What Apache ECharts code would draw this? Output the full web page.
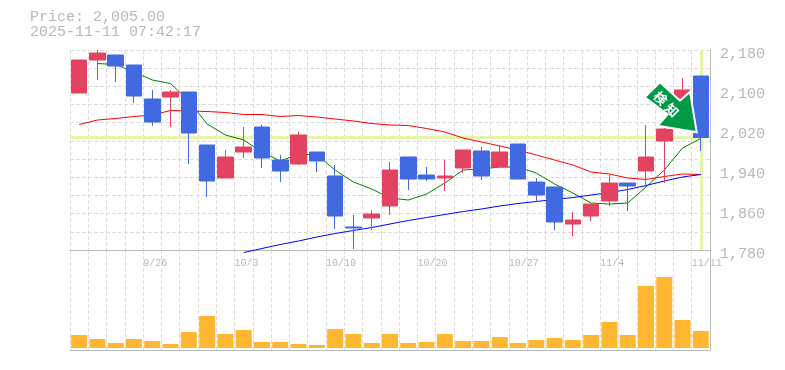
<!DOCTYPE html>
<html><head><meta charset="utf-8">
<style>html,body{margin:0;padding:0;background:#fff}#c{width:785px;height:370px}</style>
<script src="https://cdn.jsdelivr.net/npm/echarts@6/dist/echarts.min.js"></script>
</head><body><div id="c"></div>
<script>
const titleLines = ['Price: 2,005.00', '2025-11-11 07:42:17'];
const lastPrice = 2005;
const dates = ['9/19','9/22','9/24','9/25','9/26','9/29','9/30','10/1','10/2','10/3','10/6','10/7','10/8','10/9','10/10','10/14','10/15','10/16','10/17','10/20','10/21','10/22','10/23','10/24','10/27','10/28','10/29','10/30','10/31','11/4','11/5','11/6','11/7','11/10','11/11'];
const tickLabels = {4:'9/26',9:'10/3',14:'10/10',19:'10/20',24:'10/27',29:'11/4',34:'11/11'};
const opens  = [2094,2160,2170,2150,2082,2086,2096,1990,1924,1976,2026,1960,1952,1976,1928,1826,1844,1868,1966,1930,1924,1944,1978,1946,1992,1916,1906,1832,1848,1878,1914,1938,1998,2082,2128];
const closes = [2160,2174,2148,2088,2036,2096,2014,1918,1966,1986,1964,1938,2010,1958,1848,1824,1852,1940,1922,1922,1928,1980,1928,1976,1922,1890,1836,1840,1872,1914,1908,1966,2022,2100,2005];
const lows   = [2094,2120,2116,2074,2028,2026,1952,1886,1924,1964,1944,1916,1950,1936,1822,1782,1820,1850,1900,1918,1898,1934,1920,1946,1922,1876,1820,1808,1838,1868,1858,1904,1914,2082,1978];
const highs  = [2160,2180,2170,2150,2100,2100,2096,1990,1980,2026,2030,1970,2016,1976,1950,1850,1860,1956,1966,1946,1960,1980,1986,1988,1992,1924,1906,1856,1872,1930,1914,2030,2030,2124,2128];
const maShort = [null,2153,2151,2136,2120,2113,2078,2032,2010,2000,1976,1958,1972,1970,1940,1916,1902,1884,1880,1892,1914,1940,1942,1946,1946,1934,1912,1894,1874,1872,1874,1906,1940,1984,2003];
const maMid = [2031,2040,2043,2047,2050,2059,2058,2057,2055,2051,2051,2047,2049,2046,2042,2038,2033,2030,2029,2023,2016,2004,1996,1988,1980,1970,1960,1950,1936,1932,1924,1921,1927,1932,1931];
const maLong = [null,null,null,null,null,null,null,null,null,1775,1783,1791,1798,1806,1813,1819,1825,1832,1839,1845,1851,1857,1862,1868,1873,1877,1881,1885,1890,1895,1901,1909,1918,1926,1931];
const volumes = [13,9,5,9,7,4,16,32,14,18,6,6,4,3,19,14,5,14,5,6,14,7,7,11,5,8,10,8,13,26,13,62,71,28,17];
const priceTicks = {min:1780,max:2180,step:80};
const arrowGlyphs = ['検','知'];

const chart = echarts.init(document.getElementById('c'), null, {renderer:'canvas'});
const FONT = '"Liberation Mono", monospace';
const GRID = '#dddddd', AXIS = '#bbbbbb', TXT = '#b8b8b8';
const dash = {color:GRID, type:[4,2], width:1};
const N = dates.length;
const line = (data,color)=>({type:'line',data,xAxisIndex:0,yAxisIndex:0,symbol:'none',z:1,clip:false,
  connectNulls:false,animation:false,lineStyle:{color,width:1},silent:true});

chart.setOption({
  animation:false,
  backgroundColor:'#fff',
  title:{left:30,top:10,padding:0,text:titleLines.join('\n'),textStyle:{fontFamily:FONT,fontSize:15,fontWeight:'normal',color:TXT,lineHeight:15}},
  grid:[{left:70,top:50,width:640,height:200},{left:70,top:250,width:640,height:100}],
  xAxis:[
    {type:'category',gridIndex:0,data:dates,boundaryGap:true,axisLine:{show:false},axisTick:{show:false},axisLabel:{show:false},
      splitLine:{show:true,interval:0,lineStyle:dash}},
    {type:'value',gridIndex:0,min:0,max:N,interval:1,position:'bottom',axisLine:{show:true,onZero:false,lineStyle:{color:AXIS,width:1}},axisTick:{show:false},splitLine:{show:false},
      axisLabel:{show:true,margin:8,align:'left',fontFamily:FONT,fontSize:10,color:TXT,formatter:v=>tickLabels[v]||'',hideOverlap:false,showMaxLabel:true,showMinLabel:true}},
    {type:'category',gridIndex:1,data:dates,boundaryGap:true,axisLine:{show:true,onZero:false,lineStyle:{color:AXIS,width:1}},axisTick:{show:false},axisLabel:{show:false},
      splitLine:{show:true,interval:0,lineStyle:dash}}
  ],
  yAxis:[
    {type:'value',gridIndex:0,min:priceTicks.min,max:priceTicks.max,interval:priceTicks.step,position:'right',scale:true,
      axisLine:{show:true,onZero:false,lineStyle:{color:AXIS,width:1}},axisTick:{show:false},splitLine:{show:false},
      axisLabel:{show:true,margin:10,fontFamily:FONT,fontSize:15,color:TXT,verticalAlign:'top',lineHeight:12,padding:[-2,0,0,0],
        formatter:v=>v.toLocaleString('en-US')}},
    {type:'value',gridIndex:0,min:0,max:11,interval:1,position:'left',axisLine:{show:false},axisTick:{show:false},axisLabel:{show:false},
      splitLine:{show:true,lineStyle:dash}},
    {type:'value',gridIndex:1,min:-2,max:98,position:'right',axisLine:{show:true,onZero:false,lineStyle:{color:AXIS,width:1}},axisTick:{show:false},axisLabel:{show:false},splitLine:{show:false}}
  ],
  series:[
    line(maShort,'#008000'), line(maMid,'#ff0000'), line(maLong,'#0000ff'),
    {type:'candlestick',xAxisIndex:0,yAxisIndex:0,z:2,barWidth:16,clip:false,silent:true,
      data:opens.map((o,i)=>[o,closes[i],lows[i],highs[i]]),
      itemStyle:{color:'#e34260',color0:'#4169e1',borderColor:'#e34260',borderColor0:'#4169e1',borderWidth:1},
      markLine:{silent:true,symbol:'none',z:1,label:{show:false},animation:false,
        lineStyle:{color:'#e6f5a8',width:3,type:'solid'},
        data:[{yAxis:lastPrice},{xAxis:N-1}]}},
    {type:'bar',xAxisIndex:2,yAxisIndex:2,data:volumes,barWidth:16,itemStyle:{color:'#ffb732'},silent:true}
  ],
  graphic:[
    {type:'polygon',z:20,shape:{points:[[644.7,97.3],[660,82.3],[680,100.7],[690,91.7],[696.7,132.3],[657.7,125.7],[667.7,114.3]]},
      style:{fill:'#009944',stroke:'#fff',lineWidth:2}},
    {type:'text',z:21,x:660.5,y:98,rotation:-Math.PI/4,
      style:{text:arrowGlyphs[0],font:'bold 13px "Noto Sans CJK JP"',fill:'#fff',align:'center',verticalAlign:'middle'}},
    {type:'text',z:21,x:672,y:110,rotation:-Math.PI/4,
      style:{text:arrowGlyphs[1],font:'bold 13px "Noto Sans CJK JP"',fill:'#fff',align:'center',verticalAlign:'middle'}}
  ]
});
</script></body></html>
